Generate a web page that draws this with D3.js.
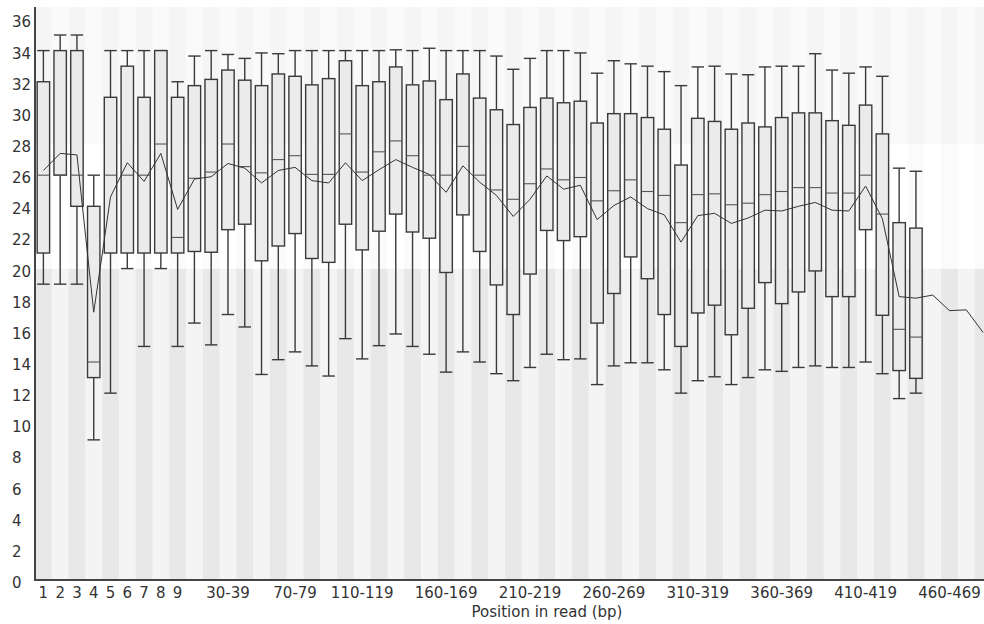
<!DOCTYPE html>
<html>
<head>
<meta charset="utf-8">
<script src="https://cdn.jsdelivr.net/npm/d3@7"></script>
<style>
  html, body { margin: 0; padding: 0; background: #ffffff; }
  svg { display: block; }
</style>
</head>
<body>
<svg id="chart" width="984" height="624"></svg>
<script>
// Per-base sequence quality: one column per base (1-9), then 10 bp bins.
const categories = [
  "1","2","3","4","5","6","7","8","9",
  "10-19","20-29","30-39","40-49","50-59","60-69","70-79","80-89","90-99",
  "100-109","110-119","120-129","130-139","140-149","150-159","160-169","170-179",
  "180-189","190-199","200-209","210-219","220-229","230-239","240-249","250-259",
  "260-269","270-279","280-289","290-299","300-309","310-319","320-329","330-339",
  "340-349","350-359","360-369","370-379","380-389","390-399","400-409","410-419",
  "420-429","430-439","440-449","450-459","460-469","470-479","480-489"
];

// Tick labels printed under the axis
const shownLabels = ["1","2","3","4","5","6","7","8","9","30-39","70-79","110-119",
  "160-169","210-219","260-269","310-319","360-369","410-419","460-469"];

const yTicks = [0,2,4,6,8,10,12,14,16,18,20,22,24,26,28,30,32,34,36];

// Box statistics (first 53 positions)
const lowWhisker = [19,19,19,9,12,20,15,20,15,16.5,15.1,17.05,16.25,13.2,14.15,14.65,13.75,13.1,
  15.5,14.2,15.05,15.8,15.0,14.5,13.35,14.65,14.0,13.25,12.8,13.65,14.5,14.15,14.2,12.55,
  13.75,13.95,13.95,13.5,12.0,12.8,13.05,12.55,13.0,13.5,13.4,13.65,13.75,13.65,13.65,14.0,
  13.25,11.65,12.0];
const lowerQuartile = [21,26,24,13,21,21,21,21,21,21.1,21.05,22.5,22.85,20.5,21.45,22.25,20.65,20.4,
  22.85,21.2,22.4,23.5,22.35,21.95,19.75,23.45,21.1,18.95,17.05,19.65,22.45,21.8,22.05,16.5,
  18.4,20.75,19.35,17.05,15.0,17.15,17.65,15.75,17.45,19.1,17.75,18.5,19.85,18.2,18.2,22.5,
  17.0,13.45,12.95];
const medianVal = [26,26,26,14,26,26,26,28,22,25.8,26.2,28.0,26.55,26.15,27.0,27.25,26.05,26.05,
  28.65,26.2,27.5,28.2,27.25,26.0,26.0,27.85,26.0,25.05,24.45,25.45,26.4,25.7,25.85,24.35,
  25.0,25.7,24.95,24.7,22.95,24.75,24.8,24.1,24.2,24.75,24.95,25.2,25.2,24.85,24.85,26.0,
  23.5,16.1,15.6];
const upperQuartile = [32,34,34,24,31,33,31,34,31,31.75,32.15,32.75,32.1,31.75,32.5,32.35,31.8,32.2,
  33.35,31.75,32.0,32.95,31.8,32.05,30.85,32.5,30.95,30.2,29.25,30.35,30.95,30.65,30.75,29.35,
  29.95,29.95,29.7,28.95,26.65,29.65,29.45,28.95,29.35,29.1,29.7,30.0,30.0,29.5,29.2,30.5,
  28.65,22.95,22.6];
const highWhisker = [34,35,35,26,34,34,34,34,32,33.65,34,33.75,33.5,33.85,33.8,34,34,34,
  34,34,34,34.05,34,34.15,34,34,34,33.65,32.8,33.5,34,34,33.85,32.55,
  33.35,33.15,33.0,32.65,31.75,32.95,33.0,32.5,32.45,32.95,33.0,33.0,33.8,32.75,32.55,32.95,
  32.35,26.45,26.25];

// Mean quality for every position
const meanVal = [26.3,27.4,27.3,17.2,24.6,26.8,25.6,27.4,23.8,25.75,25.9,26.75,26.45,25.5,26.3,26.5,25.65,25.5,
  26.8,25.65,26.35,27.0,26.5,26.05,24.9,26.6,25.55,24.7,23.35,24.45,25.95,25.1,25.35,23.15,
  24.05,24.6,23.85,23.45,21.7,23.4,23.55,22.9,23.25,23.75,23.7,24.0,24.25,23.75,23.7,25.3,
  23.2,18.2,18.1,18.3,17.3,17.35,15.9];

// Quality bands (poor / reasonable / good), each with alternating stripe shades
const bands = [
  { from: 0,  to: 20,   even: "#e8e8e8", odd: "#f4f4f4" },
  { from: 20, to: 28,   even: "#fbfbfb", odd: "#ffffff" },
  { from: 28, to: 36.8, even: "#f5f5f5", odd: "#fafafa" }
];

const svg = d3.select("#chart");
const colW = 16.78;
const plotLeft = 35, plotTop = 7, plotBottom = 580;

const x = d3.scaleBand()
  .domain(categories)
  .range([plotLeft, plotLeft + categories.length * colW])
  .paddingInner(0).paddingOuter(0);

const y = d3.scaleLinear().domain([0, 36.8]).range([plotBottom, plotTop]);

const font = "'DejaVu Sans', Verdana, sans-serif";
const ink = "#3a3a3a";

// background stripes
const bg = svg.append("g");
categories.forEach((c, i) => {
  bands.forEach(b => {
    bg.append("rect")
      .attr("x", x(c))
      .attr("y", y(b.to))
      .attr("width", x.bandwidth() + 0.5)
      .attr("height", y(b.from) - y(b.to))
      .attr("fill", i % 2 === 0 ? b.even : b.odd);
  });
});

// boxes
const bw = x.bandwidth() * 0.74;
const boxes = svg.append("g");
lowWhisker.forEach((lo, i) => {
  const cx = x(categories[i]) + x.bandwidth() / 2;
  const g = boxes.append("g").attr("stroke", ink).attr("stroke-width", 1.4).attr("fill", "none");
  // whiskers
  g.append("line").attr("x1", cx).attr("x2", cx).attr("y1", y(highWhisker[i])).attr("y2", y(upperQuartile[i]));
  g.append("line").attr("x1", cx).attr("x2", cx).attr("y1", y(lowerQuartile[i])).attr("y2", y(lo));
  g.append("line").attr("x1", cx - bw / 2).attr("x2", cx + bw / 2).attr("y1", y(highWhisker[i])).attr("y2", y(highWhisker[i]));
  g.append("line").attr("x1", cx - bw / 2).attr("x2", cx + bw / 2).attr("y1", y(lo)).attr("y2", y(lo));
  // box
  g.append("rect")
    .attr("x", cx - bw / 2)
    .attr("y", y(upperQuartile[i]))
    .attr("width", bw)
    .attr("height", y(lowerQuartile[i]) - y(upperQuartile[i]))
    .attr("fill", "#ebebeb");
  // median
  g.append("line")
    .attr("x1", cx - bw / 2).attr("x2", cx + bw / 2)
    .attr("y1", y(medianVal[i])).attr("y2", y(medianVal[i]))
    .attr("stroke", "#555").attr("stroke-width", 1.1);
});

// mean line
svg.append("path")
  .datum(meanVal)
  .attr("fill", "none")
  .attr("stroke", "#333")
  .attr("stroke-width", 1)
  .attr("d", d3.line()
    .x((d, i) => x(categories[i]) + x.bandwidth() / 2)
    .y(d => y(d)));

// axis lines
svg.append("line").attr("x1", plotLeft).attr("x2", plotLeft).attr("y1", plotTop).attr("y2", plotBottom)
  .attr("stroke", "#444").attr("stroke-width", 2);
svg.append("line").attr("x1", plotLeft - 1).attr("x2", 984).attr("y1", plotBottom).attr("y2", plotBottom)
  .attr("stroke", "#444").attr("stroke-width", 2);

// x tick labels
const xAxis = svg.append("g")
  .attr("transform", `translate(0,${plotBottom})`)
  .call(d3.axisBottom(x).tickValues(shownLabels).tickSize(0).tickPadding(7));
xAxis.select(".domain").remove();
xAxis.selectAll("text")
  .attr("font-family", font).attr("font-size", 15).attr("fill", "#333");

// y tick labels
const yAxis = svg.append("g")
  .attr("transform", `translate(${plotLeft},0)`)
  .call(d3.axisLeft(y).tickValues(yTicks).tickSize(0));
yAxis.select(".domain").remove();
yAxis.selectAll("text")
  .attr("font-family", font).attr("font-size", 15).attr("fill", "#333")
  .attr("text-anchor", "start").attr("x", 12 - plotLeft).attr("dy", "0.5em");

// x axis title
svg.append("text")
  .attr("x", 547).attr("y", 617)
  .attr("text-anchor", "middle")
  .attr("font-family", font).attr("font-size", 15).attr("fill", "#333")
  .text("Position in read (bp)");
</script>
</body>
</html>
